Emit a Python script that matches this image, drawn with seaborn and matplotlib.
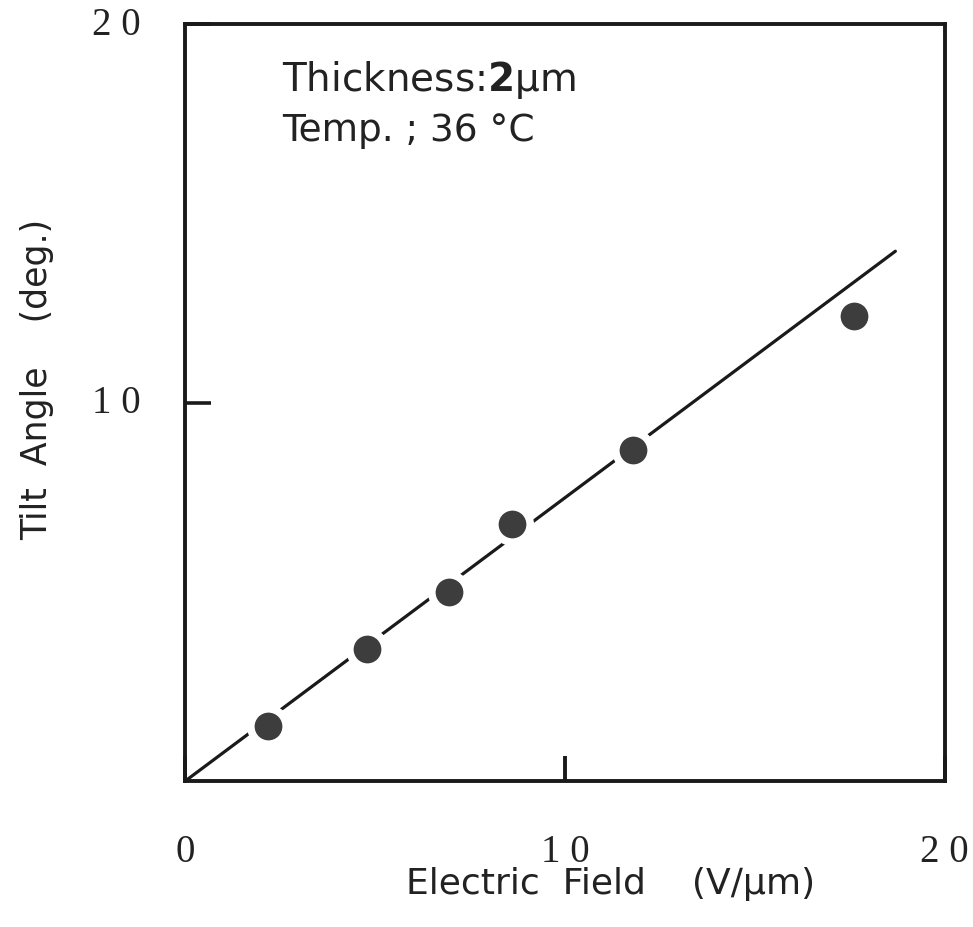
import matplotlib
matplotlib.use("Agg")
import matplotlib.pyplot as plt
import seaborn as sns
import pandas as pd
import numpy as np

# Data
field = [2.2, 4.8, 6.95, 8.6, 11.8, 17.6]
tilt = [1.45, 3.5, 5.0, 6.8, 8.75, 12.3]
fit_x = [0.0, 18.7]
fit_y = [0.0, 14.0]
xticks = [0, 10, 20]
xticklabels = ["0", "1 0", "2 0"]
yticks = [10, 20]
yticklabels = ["1 0", "2 0"]

sns.set_theme(style="white")
plt.rcParams['font.family'] = ['DejaVu Sans']

fig = plt.figure(figsize=(9.73, 9.28), dpi=100)
ax = fig.add_axes([0.190, 0.157, 0.781, 0.816])

df = pd.DataFrame({"x": field, "y": tilt})
fit = pd.DataFrame({"x": fit_x, "y": fit_y})
sns.lineplot(data=fit, x="x", y="y", ax=ax, color="#1a1a1a", linewidth=2.3, zorder=2)
sns.scatterplot(data=df, x="x", y="y", ax=ax, s=650, color="#3d3d3d",
                edgecolor="white", linewidth=5.5, zorder=3)

ax.set_xlim(0, 20)
ax.set_ylim(0, 20)
for s in ax.spines.values():
    s.set_color("#1a1a1a")
    s.set_linewidth(2.8)

ax.set_xticks(xticks)
ax.set_xticklabels(xticklabels, fontfamily="Liberation Serif", fontsize=28, color="#222222")
ax.set_yticks(yticks)
ax.set_yticklabels(yticklabels, fontfamily="Liberation Serif", fontsize=28, color="#222222",
                   va="center")
ax.tick_params(axis="x", bottom=True, direction="in", length=18, width=2.8,
               color="#1a1a1a", pad=37)
ax.tick_params(axis="y", left=True, direction="in", length=19, width=2.6,
               color="#1a1a1a", pad=32)

ax.set_xlabel("Electric  Field    (V\u2215\u03bcm)", fontsize=26, color="#222222")
ax.xaxis.set_label_coords(0.56, -0.112)
ax.set_ylabel("Tilt  Angle    (deg.)", fontsize=25, color="#222222")
ax.yaxis.set_label_coords(-0.172, 0.532)

ax.text(0.128, 0.955, "Thickness:$\\bf{2}$\u03bcm", transform=ax.transAxes, fontsize=28,
        color="#222222", va="top", ha="left")
ax.text(0.128, 0.884, "Temp. ; 36 \u00b0C", transform=ax.transAxes, fontsize=27,
        color="#222222", va="top", ha="left")

fig.savefig("out.png", dpi=100, facecolor="white")
